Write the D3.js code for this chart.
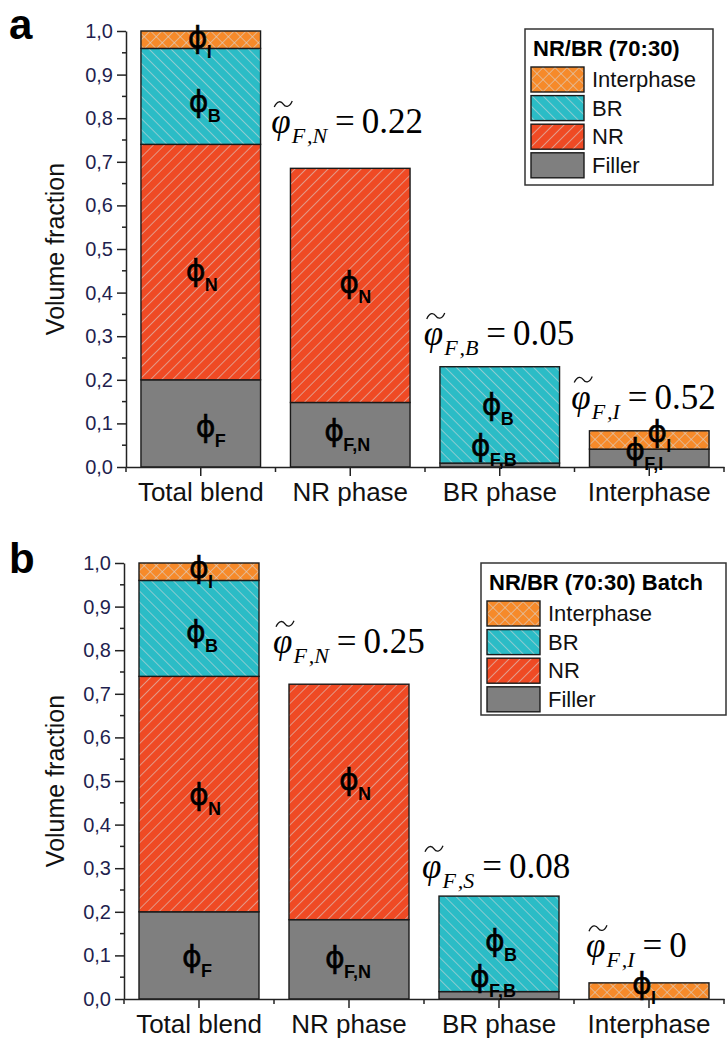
<!DOCTYPE html>
<html>
<head>
<meta charset="utf-8">
<script src="https://cdn.jsdelivr.net/npm/d3@7"></script>
<style>
    html, body { margin: 0; padding: 0; background: #fff; }
    svg { display: block; }
</style>
</head>
<body>
<div class="graph"></div>
<script>
var categories = ['Total blend', 'NR phase', 'BR phase', 'Interphase'];
var componentKeys = ['Filler', 'NR', 'BR', 'Interphase'];
var legendOrder = ['Interphase', 'BR', 'NR', 'Filler'];
var yTicks = [0, 0.1, 0.2, 0.3, 0.4, 0.5, 0.6, 0.7, 0.8, 0.9, 1.0];
var yMinorTicks = [0.05, 0.15, 0.25, 0.35, 0.45, 0.55, 0.65, 0.75, 0.85, 0.95];

// panel a : NR/BR (70:30)
var fillerA = [0.200, 0.148, 0.009, 0.041];
var nrA = [0.540, 0.537, 0, 0];
var brA = [0.220, 0, 0.221, 0];
var interA = [0.040, 0, 0, 0.042];

// panel b : NR/BR (70:30) Batch
var fillerB = [0.200, 0.182, 0.017, 0];
var nrB = [0.540, 0.540, 0, 0];
var brB = [0.220, 0, 0.219, 0];
var interB = [0.040, 0, 0, 0.037];

// phi labels: category, subscript, value of the phi baseline, x shift from bar centre
var phiLabelsA = [
    ['Total blend', 'I', 0.961, -3],
    ['Total blend', 'B', 0.814, -2],
    ['Total blend', 'N', 0.427, -5],
    ['Total blend', 'F', 0.069, 5],
    ['NR phase', 'N', 0.400, -1],
    ['NR phase', 'F,N', 0.060, -16],
    ['BR phase', 'B', 0.120, -8],
    ['BR phase', 'F,B', 0.025, -19],
    ['Interphase', 'I', 0.058, 8],
    ['Interphase', 'F,I', 0.016, -14]
];
var phiLabelsB = [
    ['Total blend', 'I', 0.966, 0],
    ['Total blend', 'B', 0.819, -3],
    ['Total blend', 'N', 0.445, 0],
    ['Total blend', 'F', 0.073, -7],
    ['NR phase', 'N', 0.480, 0],
    ['NR phase', 'F,N', 0.070, -14],
    ['BR phase', 'B', 0.110, -4],
    ['BR phase', 'F,B', 0.028, -19],
    ['Interphase', 'I', 0.011, -7]
];

// filler ratio notes: category, subscript, text value, baseline value, x shift
var ratioNotesA = [
    ['NR phase', 'F\u200A,N', '0.22', 0.766, -79],
    ['BR phase', 'F\u200A,B', '0.05', 0.280, -76],
    ['Interphase', 'F\u200A,I', '0.52', 0.134, -78]
];
var ratioNotesB = [
    ['NR phase', 'F\u200A,N', '0.25', 0.794, -76],
    ['BR phase', 'F\u200A,S', '0.08', 0.278, -77],
    ['Interphase', 'F\u200A,I', '0', 0.096, -63]
];

var fills = {
    Filler: '#7f7f7f',
    NR: 'url(#hatch-nr)',
    BR: 'url(#hatch-br)',
    Interphase: 'url(#hatch-int)'
};
var sans = "'Liberation Sans', Arial, sans-serif";
var serif = "'Liberation Serif', 'Times New Roman', serif";

var svg = d3.select('.graph')
    .append('svg')
    .attr('width', 728)
    .attr('height', 1039);

svg.append('rect').attr('width', 728).attr('height', 1039).attr('fill', '#fff');

var defs = svg.append('defs');

function hatch(id, color, angle, size, cross) {
    var p = defs.append('pattern')
        .attr('id', id)
        .attr('patternUnits', 'userSpaceOnUse')
        .attr('width', size)
        .attr('height', size)
        .attr('patternTransform', 'rotate(' + angle + ')');
    p.append('rect').attr('width', size).attr('height', size).attr('fill', color);
    p.append('line')
        .attr('x1', 0).attr('y1', 0).attr('x2', 0).attr('y2', size)
        .attr('stroke', '#d8d8d8').attr('stroke-width', 1.1);
    if (cross) {
        p.append('line')
            .attr('x1', 0).attr('y1', 0).attr('x2', size).attr('y2', 0)
            .attr('stroke', '#d8d8d8').attr('stroke-width', 1.1);
    }
}
hatch('hatch-nr', '#ef4a24', 45, 7.8, false);
hatch('hatch-br', '#2bbcc6', -45, 7.8, false);
hatch('hatch-int', '#f68a2a', 45, 8.5, true);

function drawPanel(cfg) {
    var g = svg.append('g');

    var x = d3.scaleBand()
        .domain(categories)
        .range([cfg.x0, cfg.x1])
        .paddingInner(0.2)
        .paddingOuter(0.1);

    var y = d3.scaleLinear()
        .domain([0, 1])
        .range([cfg.yBottom, cfg.yTop]);

    var rows = categories.map(function (c, i) {
        return { cat: c, Filler: cfg.filler[i], NR: cfg.nr[i], BR: cfg.br[i], Interphase: cfg.inter[i] };
    });
    var series = d3.stack().keys(componentKeys)(rows);

    // bars
    g.selectAll('g.layer')
        .data(series)
        .enter()
        .append('g')
        .attr('class', 'layer')
        .attr('fill', function (d) { return fills[d.key]; })
        .selectAll('rect')
        .data(function (d) {
            return d.filter(function (s) { return s[1] - s[0] > 0; });
        })
        .enter()
        .append('rect')
        .attr('x', function (d) { return x(d.data.cat); })
        .attr('y', function (d) { return y(d[1]); })
        .attr('width', x.bandwidth())
        .attr('height', function (d) { return y(d[0]) - y(d[1]); })
        .attr('stroke', '#1a1a1a')
        .attr('stroke-width', 1.4);

    // y axis
    var yAxis = d3.axisLeft(y)
        .tickValues(yTicks)
        .tickFormat(function (d) { return d3.format('.1f')(d).replace('.', ','); })
        .tickSize(9)
        .tickSizeOuter(0)
        .tickPadding(4);

    var ya = g.append('g')
        .attr('transform', 'translate(' + cfg.x0 + ',0)')
        .call(yAxis);
    ya.selectAll('.tick text')
        .attr('font-family', sans)
        .attr('font-size', 20)
        .attr('fill', '#1f1f4f');

    ya.selectAll('line.minor')
        .data(yMinorTicks)
        .enter()
        .append('line')
        .attr('class', 'minor')
        .attr('x1', -4).attr('x2', 0)
        .attr('y1', function (d) { return y(d); })
        .attr('y2', function (d) { return y(d); })
        .attr('stroke', '#222');

    // x axis
    var xAxis = d3.axisBottom(x)
        .tickSize(9)
        .tickSizeOuter(0)
        .tickPadding(7);

    var xa = g.append('g')
        .attr('transform', 'translate(0,' + cfg.yBottom + ')')
        .call(xAxis);
    xa.selectAll('.tick text')
        .attr('font-family', sans)
        .attr('font-size', 26)
        .attr('fill', '#111');

    var bounds = d3.range(categories.length + 1).map(function (i) {
        return cfg.x0 + i * x.step();
    });
    xa.selectAll('line.minor')
        .data(bounds)
        .enter()
        .append('line')
        .attr('class', 'minor')
        .attr('x1', function (d) { return d; })
        .attr('x2', function (d) { return d; })
        .attr('y1', 0).attr('y2', 5)
        .attr('stroke', '#222');

    g.selectAll('.domain, .tick line, line.minor')
        .attr('stroke', '#222')
        .attr('stroke-width', 1.5);

    // axis title
    g.append('text')
        .attr('transform', 'translate(64,' + (cfg.yBottom + cfg.yTop) / 2 + ') rotate(-90)')
        .attr('text-anchor', 'middle')
        .attr('font-family', sans)
        .attr('font-size', 25)
        .attr('fill', '#111')
        .text('Volume fraction');

    // panel letter
    g.append('text')
        .attr('x', 9)
        .attr('y', cfg.letterY)
        .attr('font-family', sans)
        .attr('font-weight', 'bold')
        .attr('font-size', 42)
        .attr('fill', '#000')
        .text(cfg.letter);

    // phi labels
    cfg.phiLabels.forEach(function (l) {
        var cx = x(l[0]) + x.bandwidth() / 2 + l[3];
        var by = y(l[2]);
        g.append('text')
            .attr('x', cx)
            .attr('y', by)
            .attr('text-anchor', 'middle')
            .attr('font-family', "'DejaVu Sans', sans-serif")
            .attr('font-size', 30)
            .attr('fill', '#000')
            .attr('stroke', '#000')
            .attr('stroke-width', 0.5)
            .text('\u03D5');
        g.append('text')
            .attr('x', cx + 9)
            .attr('y', by + 10)
            .attr('font-family', sans)
            .attr('font-weight', 'bold')
            .attr('font-size', 18)
            .attr('fill', '#000')
            .text(l[1]);
    });

    // filler ratio notes
    cfg.ratioNotes.forEach(function (n) {
        var sx = x(n[0]) + x.bandwidth() / 2 + n[4];
        var by = y(n[3]);
        var t = g.append('text')
            .attr('x', sx)
            .attr('y', by)
            .attr('font-family', serif)
            .attr('font-size', 35)
            .attr('fill', '#000');
        t.append('tspan').attr('font-style', 'italic').text('\u03C6');
        t.append('tspan')
            .attr('font-style', 'italic')
            .attr('font-size', 22)
            .attr('dy', 10)
            .attr('dx', 1)
            .text(n[1]);
        t.append('tspan')
            .attr('dy', -10)
            .attr('dx', 8)
            .text('=\u2009' + n[2]);

        var p = d3.path();
        p.moveTo(sx + 3, by - 26);
        p.bezierCurveTo(sx + 6, by - 33, sx + 10, by - 32, sx + 12, by - 29);
        p.bezierCurveTo(sx + 14, by - 26, sx + 18, by - 25, sx + 21, by - 32);
        g.append('path')
            .attr('d', p.toString())
            .attr('fill', 'none')
            .attr('stroke', '#111')
            .attr('stroke-width', 1.3);
    });

    // legend
    var lg = g.append('g').attr('transform', 'translate(' + cfg.legend[0] + ',' + cfg.legend[1] + ')');
    lg.append('rect')
        .attr('width', cfg.legend[2])
        .attr('height', cfg.legend[3])
        .attr('fill', '#fff')
        .attr('stroke', '#333')
        .attr('stroke-width', 1.5);
    lg.append('text')
        .attr('x', 8)
        .attr('y', 27)
        .attr('font-family', sans)
        .attr('font-weight', 'bold')
        .attr('font-size', 22)
        .attr('fill', '#000')
        .text(cfg.title);
    var items = lg.selectAll('g.item')
        .data(legendOrder)
        .enter()
        .append('g')
        .attr('class', 'item')
        .attr('transform', function (d, i) { return 'translate(6,' + (38 + i * 28.6) + ')'; });
    items.append('rect')
        .attr('width', 53)
        .attr('height', 25)
        .attr('fill', function (d) { return fills[d]; })
        .attr('stroke', '#1a1a1a')
        .attr('stroke-width', 1.4);
    items.append('text')
        .attr('x', 61)
        .attr('y', 20)
        .attr('font-family', sans)
        .attr('font-size', 22)
        .attr('fill', '#111')
        .text(function (d) { return d; });
}

drawPanel({
    letter: 'a', letterY: 39,
    x0: 126, x1: 724, yBottom: 467, yTop: 31,
    filler: fillerA, nr: nrA, br: brA, inter: interA,
    phiLabels: phiLabelsA, ratioNotes: ratioNotesA,
    title: 'NR/BR (70:30)', legend: [525, 29, 188, 156]
});

drawPanel({
    letter: 'b', letterY: 573,
    x0: 124, x1: 724, yBottom: 999, yTop: 563,
    filler: fillerB, nr: nrB, br: brB, inter: interB,
    phiLabels: phiLabelsB, ratioNotes: ratioNotesB,
    title: 'NR/BR (70:30) Batch', legend: [481, 563, 245, 152]
});
</script>
</body>
</html>
